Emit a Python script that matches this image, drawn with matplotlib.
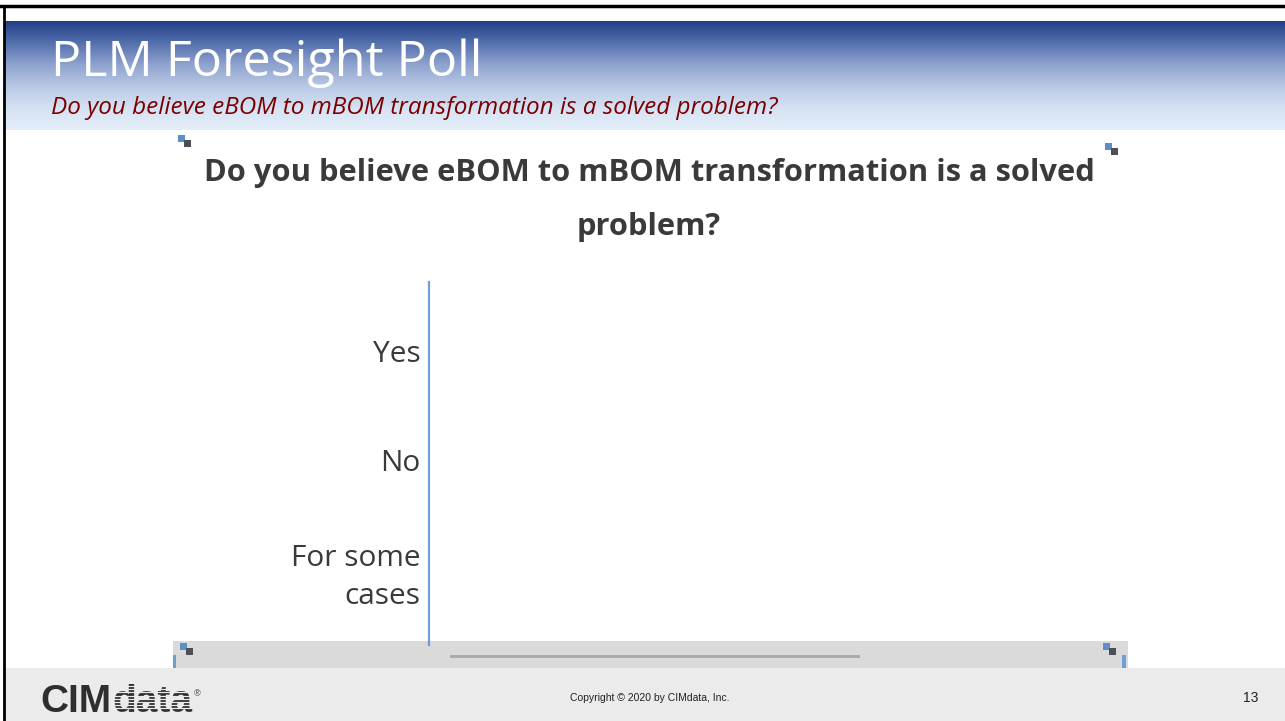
import numpy as np
import matplotlib
matplotlib.use('Agg')
import matplotlib.pyplot as plt
from matplotlib.patches import Rectangle
from matplotlib.colors import LinearSegmentedColormap

# poll answers (no votes shown yet)
categories = ['Yes', 'No', 'For some\ncases']
votes = [0, 0, 0]

slide_title = 'PLM Foresight Poll'
question = 'Do you believe eBOM to mBOM transformation is a solved problem?'
chart_title = 'Do you believe eBOM to mBOM transformation is a solved\nproblem?'
copyright_text = 'Copyright \u00a9 2020 by CIMdata, Inc.'
page_no = '13'

W, H = 1285, 721
FOOT_BG = '#ebebeb'
fig = plt.figure(figsize=(W / 100, H / 100), dpi=100)
fig.patch.set_facecolor('white')

# background layer in pixel coordinates
bg = fig.add_axes([0, 0, 1, 1])
bg.set_xlim(0, W)
bg.set_ylim(H, 0)
bg.axis('off')

# header gradient
hdr_cmap = LinearSegmentedColormap.from_list(
    'hdr', ['#233e88', '#5570ad', '#8fa3cf', '#b9c8e5', '#d6e2f3', '#e3eef9'])
grad = np.linspace(0, 1, 200).reshape(-1, 1)
bg.imshow(grad, cmap=hdr_cmap, aspect='auto', extent=(4, W, 130, 21), zorder=1)

# footer band
bg.add_patch(Rectangle((4, 668), W, H - 668, facecolor=FOOT_BG, edgecolor='none', zorder=1))

# slide frame lines
bg.plot([0, W], [6, 6], color='black', lw=2.5, zorder=5)
bg.plot([3.5, 3.5], [6, H], color='black', lw=2, zorder=5)

# screenshot grey strip at bottom
bg.add_patch(Rectangle((173, 641), 955, 27, facecolor='#dadada', edgecolor='none', zorder=2))
bg.add_patch(Rectangle((450, 655), 410, 3, facecolor='#ababab', edgecolor='none', zorder=3))
# screenshot corner markers
for cx, cy in [(183, 138), (1110, 146), (185, 646), (1108, 646)]:
    bg.add_patch(Rectangle((cx - 5, cy - 3), 7, 7, facecolor='#5b8fc6', edgecolor='none', zorder=3))
    bg.add_patch(Rectangle((cx + 1, cy + 2), 7, 7, facecolor='#4a4f58', edgecolor='none', zorder=3))
bg.add_patch(Rectangle((173, 655), 3, 13, facecolor='#6f9fd2', edgecolor='none', zorder=3))
bg.add_patch(Rectangle((1122, 655), 4, 13, facecolor='#6f9fd2', edgecolor='none', zorder=3))

# header texts
bg.text(51, 63, slide_title, color='white', fontsize=36.3, family='Open Sans',
        va='center', ha='left', zorder=6)
bg.text(51, 108, question, color='#7a0000', fontsize=17.5, family='Open Sans',
        style='italic', va='center', ha='left', zorder=6)

# chart title
bg.text(649, 200, chart_title, color='#3a3a3a', fontsize=22.2, family='Open Sans',
        weight='bold', ha='center', va='center', linespacing=2.0, zorder=6)

# footer: logo and texts
cim = bg.text(40, 712, 'CIM', color='#2e2e2e', fontsize=28,
              family='Liberation Sans', weight='bold', va='baseline', ha='left', zorder=6)
data_txt = bg.annotate('data', xy=(1, 0), xycoords=cim, xytext=(1, 0),
                       textcoords='offset points', color='#2e2e2e', fontsize=28,
                       family='Liberation Sans', weight='bold', va='bottom',
                       ha='left', zorder=6)
bg.annotate('\u00ae', xy=(1, 1), xycoords=data_txt, xytext=(1, -4),
            textcoords='offset points', color='#2e2e2e', fontsize=6.5,
            family='Liberation Sans', va='top', ha='left', zorder=6)
bg.text(650, 698, copyright_text, color='#222222', fontsize=7.5, family='Liberation Sans',
        va='center', ha='center', zorder=6)
bg.text(1251, 698, page_no, color='#222222', fontsize=10, family='Liberation Sans',
        va='center', ha='center', zorder=6)

# the poll bar chart
ax = fig.add_axes([429 / W, 1 - 645 / H, 680 / W, (645 - 282) / H])
ax.patch.set_alpha(0)
y = np.arange(len(categories))
ax.barh(y, votes, color='#5b9bd5', height=0.6)
ax.set_yticks(y)
ax.set_yticklabels(categories, fontsize=21.5, family='Open Sans', color='#3a3a3a',
                   linespacing=1.45)
ax.set_ylim(2.697, -0.633)
ax.set_xlim(0, 1)
ax.set_xticks([])
ax.tick_params(axis='y', length=0, pad=6)
for s in ['top', 'right', 'bottom']:
    ax.spines[s].set_visible(False)
ax.spines['left'].set_color('#6fa0d8')
ax.spines['left'].set_linewidth(1.6)

# horizontal stripes through the "data" part of the logo
fig.canvas.draw()
bb = data_txt.get_window_extent().transformed(bg.transData.inverted())
x0, x1 = bb.x0, bb.x1
ytop, ybot = min(bb.y0, bb.y1), max(bb.y0, bb.y1)
for yy in np.arange(ytop + 2, ybot, 3.2):
    bg.plot([x0, x1], [yy, yy], color=FOOT_BG, lw=0.9, zorder=7)

fig.savefig('out.png', dpi=100)
